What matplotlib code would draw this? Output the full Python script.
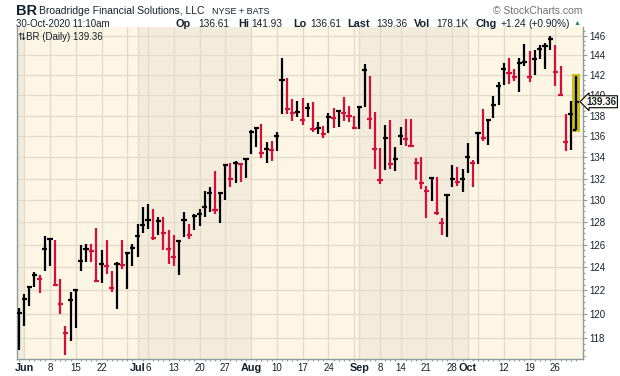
import numpy as np
import pandas as pd
import matplotlib
matplotlib.use("Agg")
import matplotlib.pyplot as plt
from matplotlib.ticker import FixedLocator, FixedFormatter, NullFormatter
from matplotlib.patches import Rectangle

plt.rcParams['font.family'] = ['Liberation Sans', 'DejaVu Sans']

# trading days 29-May-2020 .. 30-Oct-2020 (Jul 3 and Sep 7 closed)
holidays = ["2020-07-03", "2020-09-07"]
dates = pd.bdate_range("2020-05-29", "2020-10-30")
dates = dates[~dates.isin(pd.to_datetime(holidays))]

highs = [120.5, 121.7, 122.3, 123.6, 123.3, 126.8, 126.5, 126.4, 123.0, 119.0,
         121.9, 122.0, 126.0, 126.05, 126.1, 127.5, 125.55, 126.4, 123.7, 124.45,
         126.4, 125.3, 126.05, 127.85, 129.35, 129.7, 129.2, 128.5, 128.5, 127.3,
         126.9, 126.3, 128.9, 127.85, 128.8, 129.25, 130.85, 131.2, 132.7, 130.7,
         133.4, 133.5, 133.65, 133.5, 133.8, 136.6, 136.8, 137.2, 135.5, 135.6,
         136.4, 143.7, 141.7, 139.6, 139.4, 139.7, 139.2, 139.3, 137.4, 137.0,
         138.25, 138.75, 138.5, 139.8, 138.95, 138.0, 138.85, 143.1, 141.9, 138.35,
         134.85, 137.05, 137.6, 134.95, 136.9, 137.7, 137.7, 133.95, 134.0, 131.3,
         132.1, 132.2, 128.4, 130.5, 133.25, 133.05, 132.9, 135.4, 133.75, 136.35,
         138.6, 137.7, 139.9, 141.35, 143.2, 143.7, 142.65, 143.7, 145.15, 144.4,
         144.5, 145.05, 145.3, 146.0, 145.05, 142.9, 138.2, 139.4, 141.93]
lows = [117.0, 119.0, 120.7, 122.3, 121.8, 123.7, 124.1, 122.5, 120.0, 116.6,
        117.7, 118.8, 123.65, 124.45, 124.45, 122.7, 122.6, 123.45, 121.9, 120.45,
        123.9, 122.15, 124.1, 124.95, 127.0, 127.4, 126.45, 126.9, 125.55, 124.3,
        124.1, 123.3, 126.7, 126.55, 127.3, 127.65, 128.5, 128.95, 128.75, 127.95,
        130.0, 131.2, 131.6, 131.7, 132.1, 134.3, 135.0, 133.9, 133.5, 133.7,
        134.6, 138.15, 138.2, 137.45, 137.85, 137.05, 137.85, 136.4, 136.25, 135.85,
        136.3, 136.8, 136.9, 137.45, 137.4, 136.7, 136.7, 138.85, 136.7, 132.9,
        131.5, 132.8, 132.9, 132.7, 135.15, 135.05, 134.95, 131.85, 131.0, 128.4,
        129.9, 128.65, 126.9, 126.7, 131.2, 131.3, 130.75, 132.5, 131.2, 133.4,
        135.6, 135.2, 137.8, 139.0, 141.0, 141.1, 141.45, 140.3, 142.9, 141.35,
        142.0, 143.6, 142.65, 144.55, 140.9, 139.9, 134.6, 134.7, 136.61]
closes = [120.1, 121.3, 122.3, 123.3, 122.95, 125.6, 126.5, 122.5, 120.8, 118.4,
          121.2, 122.0, 124.6, 125.6, 125.4, 122.85, 124.3, 124.15, 122.25, 124.3,
          124.2, 125.3, 125.7, 126.8, 127.8, 128.2, 126.6, 128.1, 127.05, 125.6,
          124.9, 126.3, 128.2, 126.9, 128.6, 128.8, 129.4, 130.7, 129.1, 130.7,
          133.3, 132.0, 133.5, 133.35, 133.8, 136.4, 136.8, 134.4, 134.8, 134.7,
          136.0, 141.5, 138.6, 138.3, 138.35, 137.6, 138.7, 136.75, 136.8, 136.25,
          137.85, 137.75, 138.5, 138.25, 137.95, 136.85, 138.85, 142.5, 137.7, 134.8,
          131.9, 135.8, 133.4, 133.85, 136.05, 135.7, 135.1, 133.5, 131.6, 130.85,
          132.1, 128.85, 127.95, 130.5, 132.0, 131.7, 132.0, 134.0, 133.45, 136.35,
          135.8, 137.6, 139.0, 140.9, 142.6, 142.2, 141.8, 143.25, 143.35, 141.85,
          143.6, 144.65, 144.95, 145.7, 142.3, 140.0, 135.45, 138.12, 139.36]
opens = [120.1, 121.3, 122.3, 123.3, 122.95, 125.6, 126.5, 122.5, 120.8, 118.4,
         121.2, 122.0, 124.6, 125.6, 125.4, 122.85, 124.3, 124.15, 122.25, 124.3,
         124.2, 125.3, 125.7, 126.8, 127.8, 128.2, 126.6, 128.1, 127.05, 125.6,
         124.9, 126.3, 128.2, 126.9, 128.6, 128.8, 129.4, 130.7, 129.1, 130.7,
         133.3, 132.0, 133.5, 133.35, 133.8, 136.4, 136.8, 134.4, 134.8, 134.7,
         136.0, 141.5, 138.6, 138.3, 138.35, 137.6, 138.7, 136.75, 136.8, 136.25,
         137.85, 137.75, 138.5, 138.25, 137.95, 136.85, 138.85, 142.5, 137.7, 134.8,
         131.9, 135.8, 133.4, 133.85, 136.05, 135.7, 135.1, 133.5, 131.6, 130.85,
         132.1, 128.85, 127.95, 130.5, 132.0, 131.7, 132.0, 134.0, 133.45, 136.35,
         135.8, 137.6, 139.0, 140.9, 142.6, 142.2, 141.8, 143.25, 143.35, 141.85,
         143.6, 144.65, 144.95, 145.7, 142.3, 140.0, 135.45, 138.12, 136.61]
volume_text = "178.1K"

yticks = list(range(118, 147, 2))
grid_days = ["2020-06-01", "2020-06-08", "2020-06-15", "2020-06-22", "2020-06-29",
             "2020-07-01", "2020-07-06", "2020-07-13", "2020-07-20", "2020-07-27",
             "2020-08-03", "2020-08-10", "2020-08-17", "2020-08-24", "2020-08-31",
             "2020-09-01", "2020-09-08", "2020-09-14", "2020-09-21", "2020-09-28",
             "2020-10-01", "2020-10-05", "2020-10-12", "2020-10-19", "2020-10-26"]
label_days = ["2020-06-01", "2020-06-08", "2020-06-15", "2020-06-22", "2020-07-01",
              "2020-07-06", "2020-07-13", "2020-07-20", "2020-07-27", "2020-08-03",
              "2020-08-10", "2020-08-17", "2020-08-24", "2020-09-01", "2020-09-08",
              "2020-09-14", "2020-09-21", "2020-09-28", "2020-10-01", "2020-10-12",
              "2020-10-19", "2020-10-26"]
label_text = ["Jun", "8", "15", "22", "Jul", "6", "13", "20", "27", "Aug",
              "10", "17", "24", "Sep", "8", "14", "21", "28", "Oct", "12", "19", "26"]

light_bg = "#fdf6e4"
dark_bg = "#f3ecdc"
grid_c = "#e4dccb"
axis_c = "#8d9c9c"
txt_c = "#14212b"
up_c = "black"
dn_c = "#d3103a"

W, H = 620, 376
fig = plt.figure(figsize=(W / 100, H / 100), dpi=100)
ax = fig.add_axes([16.5 / W, 16.7 / H, 566.2 / W, 332.3 / H])

x = np.arange(len(closes))
pos = {d: i for i, d in enumerate(dates.strftime("%Y-%m-%d"))}
xmin, xmax = -0.485, 109.3

# month shading
month_starts = [i for i in range(1, len(dates)) if dates[i].month != dates[i - 1].month]
edges = [xmin] + month_starts + [xmax]
for k in range(len(edges) - 1):
    ax.axvspan(edges[k], edges[k + 1], color=dark_bg if k % 2 == 0 else light_bg,
               lw=0, zorder=0)

for d in grid_days:
    ax.axvline(pos[d], color=grid_c, lw=1, zorder=1)
for v in yticks:
    ax.axhline(v, color=grid_c, lw=1, zorder=1)

# last bar highlight
ax.add_patch(Rectangle((x[-1] - 0.73, lows[-1] - 0.15), 1.46,
                       highs[-1] - lows[-1] + 0.3, fc="#c6bd1e", ec="none", zorder=2))

prev = [opens[0]] + closes[:-1]
cols = [up_c if c >= p else dn_c for c, p in zip(closes, prev)]
ax.vlines(x, lows, highs, colors=cols, lw=1.6, zorder=3)
ax.hlines(opens, x - 0.5, x, colors=cols, lw=1.6, zorder=3)
ax.hlines(closes, x, x + 0.5, colors=cols, lw=1.6, zorder=3)

ax.set_yscale("log")
ax.set_ylim(116.22, 146.9)
ax.set_xlim(xmin, xmax)
ax.yaxis.tick_right()
ax.yaxis.set_major_locator(FixedLocator(yticks))
ax.yaxis.set_major_formatter(FixedFormatter([str(v) for v in yticks]))
ax.yaxis.set_minor_locator(FixedLocator(np.arange(116.5, 147, 0.5)))
ax.yaxis.set_minor_formatter(NullFormatter())
ax.tick_params(axis="y", which="major", length=3, width=0.8, color=axis_c,
               labelsize=7, labelcolor=txt_c, pad=2)
ax.tick_params(axis="y", which="minor", length=1.5, width=0.8, color=axis_c)

ax.xaxis.set_major_locator(FixedLocator([pos[d] for d in label_days]))
ax.xaxis.set_major_formatter(FixedFormatter(label_text))
ax.xaxis.set_minor_locator(FixedLocator(x))
ax.tick_params(axis="x", which="major", length=0, labelsize=7, labelcolor=txt_c, pad=3)
ax.tick_params(axis="x", which="minor", length=1.5, width=0.8, color=axis_c)
for t in ax.get_xticklabels():
    if not t.get_text().isdigit():
        t.set_fontweight("bold")
        t.set_fontsize(7.8)

for s in ["left", "bottom", "right"]:
    ax.spines[s].set_color(axis_c)
    ax.spines[s].set_linewidth(1)
ax.spines["top"].set_visible(False)

ax.text(0.003, 0.985, "\u21c5BR (Daily) %.2f" % closes[-1], transform=ax.transAxes,
        ha="left", va="top", fontsize=7, color=txt_c)

ax.annotate("%.2f" % closes[-1], xy=(1, closes[-1]), xycoords=ax.get_yaxis_transform(),
            xytext=(2.6, 0), textcoords="offset points", ha="left", va="center",
            fontsize=7, fontweight="bold", color=txt_c, annotation_clip=False,
            bbox=dict(boxstyle="larrow,pad=0.1", fc="#fffdf2", ec="black", lw=0.8),
            zorder=5)

# header
def ftext(px, py, s, **kw):
    kw.setdefault("color", txt_c)
    fig.text(px / W, 1 - py / H, s, ha="left", va="center", **kw)

ftext(16, 11, "BR", fontsize=10.5, fontweight="bold")
ftext(39, 11.5, "Broadridge Financial Solutions, LLC", fontsize=7.5)
ftext(212, 12, "NYSE + BATS", fontsize=6.5)
ftext(493, 11, "\u00a9 StockCharts.com", fontsize=7.5, color="#707070")
ftext(16, 24, "30-Oct-2020 11:10am", fontsize=7)
chg = closes[-1] - closes[-2]
header = [(176, "Op", True), (198, "%.2f" % opens[-1], False),
          (238, "Hi", True), (251, "%.2f" % highs[-1], False),
          (293, "Lo", True), (310, "%.2f" % lows[-1], False),
          (347.7, "Last", True), (376, "%.2f" % closes[-1], False),
          (414, "Vol", True), (436, volume_text, False),
          (475, "Chg", True), (500, "%+.2f" % chg, False),
          (528, "(%+.2f%%)" % (chg / closes[-2] * 100), False)]
for px, s, b in header:
    ftext(px, 24, s, fontsize=7.8 if b else 7.3, fontweight="bold" if b else "normal")
ftext(574, 23.5, "\u25b2", fontsize=5, color="#2e8b3a")

fig.savefig("out.png", dpi=100)
